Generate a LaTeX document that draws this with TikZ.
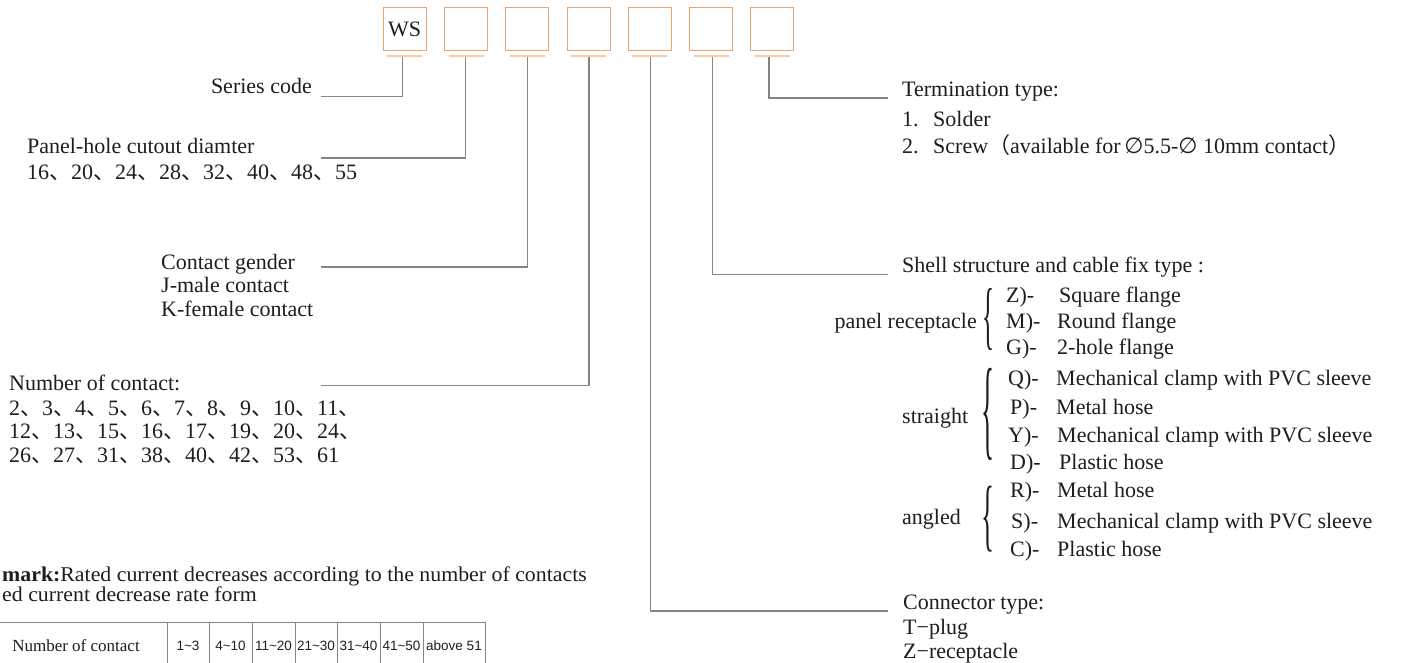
\documentclass[tikz,border=0pt]{standalone}
\usepackage{graphicx}
\usepackage{fontspec}
\setmainfont{Liberation Serif}
\newfontfamily\cjk{Noto Sans CJK SC}
\newfontfamily\dvs{DejaVu Sans}
\newfontfamily\arialf{Liberation Sans}
\newcommand\dn{{\cjk 、}}
\newcommand\mybrace[2]{\resizebox*{#1}{#2}{\{}}
\definecolor{boxor}{HTML}{F0A46C}
\definecolor{ulor}{HTML}{F7CBA5}
\definecolor{lng}{HTML}{858585}
\definecolor{txt}{HTML}{1E1E1E}
\begin{document}
\begin{tikzpicture}[x=1pt,y=-1pt,
  lbl/.style={inner sep=0pt, font=\fontsize{22}{26}\selectfont, text=txt, anchor=base west},
  rmk/.style={inner sep=0pt, font=\fontsize{21}{22}\selectfont, text=txt, anchor=base west},
  conn/.style={draw=lng, line width=1.3pt},
  codebox/.style={draw=boxor, line width=1.4pt, minimum width=43pt, minimum height=43pt, inner sep=0pt, font=\fontsize{22}{26}\selectfont, text=txt},
  uline/.style={draw=ulor, line width=2.2pt},
  tab/.style={draw=lng, line width=1pt},
  cell/.style={inner sep=0pt, font=\arialf\fontsize{13.5}{15}\selectfont, text=txt, anchor=base},
  brc/.style={inner sep=0pt, text=txt, font=\fontsize{22}{26}\selectfont},
]
\useasboundingbox[fill=white] (0,0) rectangle (1405,663);

% code boxes
\node[codebox] (b1) at (404.7,29) {WS};
\node[codebox] (b2) at (466.2,29) {};
\node[codebox] (b3) at (527.2,29) {};
\node[codebox] (b4) at (588.7,29) {};
\node[codebox] (b5) at (649.7,29) {};
\node[codebox] (b6) at (711.2,29) {};
\node[codebox] (b7) at (772.2,29) {};
\foreach \b in {b1,b2,b3,b4,b5,b6,b7}{
  \draw[uline] ([xshift=-17.5pt,yshift=-5pt]\b.south) -- ([xshift=17.5pt,yshift=-5pt]\b.south);
}

% connector start/end points
\coordinate (s1) at (402.3,57.5);
\coordinate (s2) at (465.7,57.5);
\coordinate (s3) at (527.3,57.5);
\coordinate (s4) at (589,57.5);
\coordinate (s5) at (650.7,57.5);
\coordinate (s6) at (712.3,57.5);
\coordinate (s7) at (769,57.5);
\coordinate (e1) at (321,96.5);
\coordinate (e2) at (321,158);
\coordinate (e3) at (321,267);
\coordinate (e4) at (321,385.5);
\coordinate (e5) at (888,611);
\coordinate (e6) at (888,274.5);
\coordinate (e7) at (888,98);
\foreach \i in {1,...,7}{ \draw[conn] (s\i) |- (e\i); }

% left labels
\node[lbl, anchor=base east] (series) at (312,94) {Series code};
\node[lbl] (panel) at (27,154) {Panel-hole cutout diamter};
\node[lbl] (panelv) at (27,180) {16\dn 20\dn 24\dn 28\dn 32\dn 40\dn 48\dn 55};
\node[lbl] (gender) at (161,269) {Contact gender};
\node[lbl] (gj) at (161,292) {J-male contact};
\node[lbl] (gk) at (161,316) {K-female contact};
\node[lbl] (num) at (9,390) {Number of contact:};
\node[lbl] (n1) at (9,415) {2\dn 3\dn 4\dn 5\dn 6\dn 7\dn 8\dn 9\dn 10\dn 11\dn};
\node[lbl] (n2) at (9,438) {12\dn 13\dn 15\dn 16\dn 17\dn 19\dn 20\dn 24\dn};
\node[lbl] (n3) at (9,462) {26\dn 27\dn 31\dn 38\dn 40\dn 42\dn 53\dn 61};

% right labels
\node[lbl] (term) at (902,97) {Termination type:};
\node[lbl] (t1) at (902,127) {\makebox[31pt][l]{1.}Solder};
\node[lbl] (t2) at (902,154) {\makebox[31pt][l]{2.}Screw{\cjk （}available for\,{\dvs ∅}5.5-{\dvs ∅} 10mm contact{\cjk ）}};
\node[lbl] (shell) at (902,272) {Shell structure and cable fix type :};

\node[lbl, anchor=base east] (pr) at (977,328) {panel receptacle};
\node[brc] (br1) at (988.5,320) {\mybrace{12pt}{62pt}};
\node[lbl] (cz) at (1006,302) {Z)-};  \node[lbl] (dz) at (1059,302) {Square flange};
\node[lbl] (cm) at (1006,328) {M)-};  \node[lbl] (dm) at (1057,328) {Round flange};
\node[lbl] (cg) at (1006,354) {G)-};  \node[lbl] (dg) at (1057,354) {2-hole flange};

\node[lbl] (st) at (902,423) {straight};
\node[brc] (br2) at (988,414) {\mybrace{13pt}{92pt}};
\node[lbl] (cq) at (1008,385) {Q)-};  \node[lbl] (dq) at (1056,385) {Mechanical clamp with PVC sleeve};
\node[lbl] (cp) at (1010,414) {P)-};  \node[lbl] (dp) at (1056,414) {Metal hose};
\node[lbl] (cy) at (1008,442) {Y)-};  \node[lbl] (dy) at (1057,442) {Mechanical clamp with PVC sleeve};
\node[lbl] (cd) at (1010,469) {D)-};  \node[lbl] (dd) at (1059,469) {Plastic hose};

\node[lbl] (an) at (902,524) {angled};
\node[brc] (br3) at (988,519) {\mybrace{13pt}{66pt}};
\node[lbl] (cr) at (1010,497) {R)-};  \node[lbl] (dr) at (1057,497) {Metal hose};
\node[lbl] (cs) at (1011,528) {S)-};  \node[lbl] (ds) at (1057,528) {Mechanical clamp with PVC sleeve};
\node[lbl] (cc) at (1010,556) {C)-};  \node[lbl] (dc) at (1057,556) {Plastic hose};

\node[lbl] (ctype) at (903,609) {Connector type:};
\node[lbl] (tp) at (903,634) {T−plug};
\node[lbl] (zr) at (903,658) {Z−receptacle};

% remark
\node[rmk] (rm1) at (2,581) {\addfontfeature{FakeStretch=1.04}\textbf{mark:}Rated current decreases according to the number of contacts};
\node[rmk] (rm2) at (2,601) {\addfontfeature{FakeStretch=1.04}ed current decrease rate form};

% table
\draw[tab] (0,622) -- (485,622);
\foreach \x in {167,209,252,295,337,380,423,485}{ \draw[tab] (\x,622) -- (\x,663); }
\node[lbl, anchor=base, font=\fontsize{17}{20}\selectfont] (tn) at (76,651) {Number of contact};
\node[cell] (c1) at (188,650) {1\textasciitilde 3};
\node[cell] (c2) at (230.5,650) {4\textasciitilde 10};
\node[cell] (c3) at (273.5,650) {11\textasciitilde 20};
\node[cell] (c4) at (316,650) {21\textasciitilde 30};
\node[cell] (c5) at (358.5,650) {31\textasciitilde 40};
\node[cell] (c6) at (401.5,650) {41\textasciitilde 50};
\node[cell] (c7) at (454,650) {above 51};
\end{tikzpicture}
\end{document}
